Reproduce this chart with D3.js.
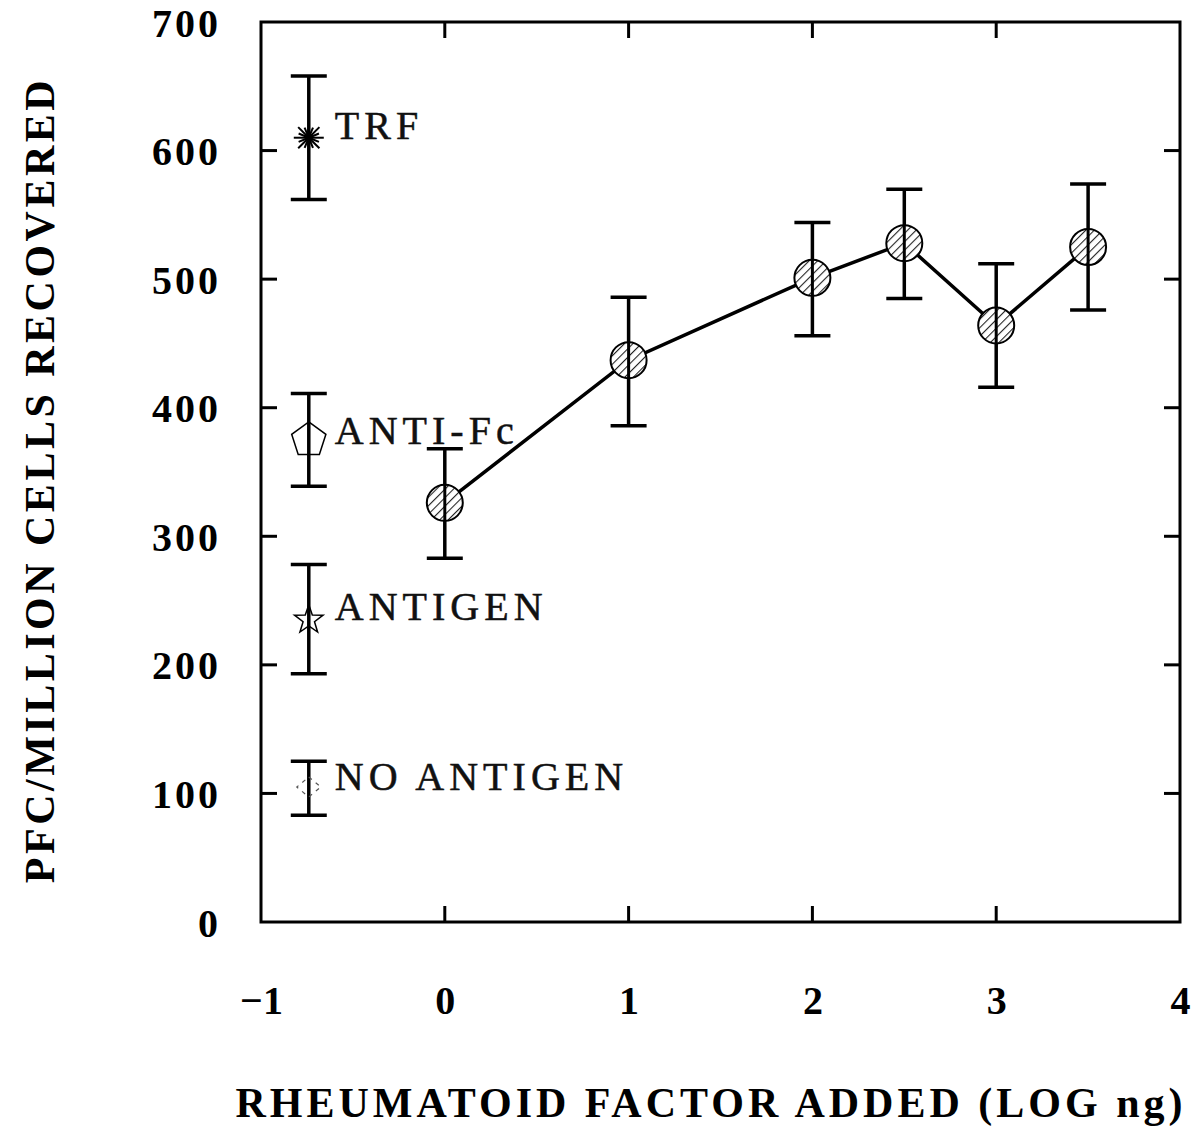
<!DOCTYPE html>
<html>
<head>
<meta charset="utf-8">
<script src="https://cdn.jsdelivr.net/npm/d3@7"></script>
<style>
  html, body { margin: 0; padding: 0; background: #fff; }
  svg { display: block; }
  text { font-family: "Liberation Serif", "Times New Roman", Times, serif; }
</style>
</head>
<body>
<svg id="chart" width="1199" height="1146"></svg>
<script>
// ---- data ----
const doseLog = [0, 1, 2, 2.5, 3, 3.5];
const pfcMean = [326, 437, 501, 528, 464, 525];
const pfcHigh = [368, 486, 544, 570, 512, 574];
const pfcLow  = [283, 386, 456, 485, 416, 476];

const controlNames = ["TRF", "ANTI-Fc", "ANTIGEN", "NO ANTIGEN"];
const controlMarkers = ["burst", "pentagon", "star", "diamond"];
const controlX = -0.74;
const controlMean = [610, 375, 235, 105];
const controlHigh = [658, 411, 278, 125];
const controlLow  = [562, 339, 193, 83];

const xTicks = [-1, 0, 1, 2, 3, 4];
const xTickLabels = ["\u22121", "0", "1", "2", "3", "4"];
const yTicks = [0, 100, 200, 300, 400, 500, 600, 700];
const xInnerTicks = [0, 1, 2, 3];
const yInnerTicks = [100, 200, 300, 400, 500, 600];

const xTitle = "RHEUMATOID FACTOR ADDED (LOG ng)";
const yTitle = "PFC/MILLION CELLS RECOVERED";

// ---- layout ----
const FONT = '"Liberation Serif", "Times New Roman", Times, serif';
const svg = d3.select("#chart");
const L = 261, R = 1180, T = 22, B = 922;
const x = d3.scaleLinear().domain([-1, 4]).range([L, R]);
const y = d3.scaleLinear().domain([0, 700]).range([B, T]);
const labelDy = [1, 4, 0, 3];

// hatch pattern
const defs = svg.append("defs");
const pat = defs.append("pattern")
  .attr("id", "hatch").attr("patternUnits", "userSpaceOnUse")
  .attr("width", 6).attr("height", 6)
  .attr("patternTransform", "rotate(45)");
pat.append("rect").attr("width", 6).attr("height", 6).attr("fill", "#fff");
pat.append("line").attr("x1", 0).attr("y1", 0).attr("x2", 0).attr("y2", 6)
  .attr("stroke", "#222").attr("stroke-width", 2.2);

// frame
svg.append("rect").attr("x", L).attr("y", T).attr("width", R - L).attr("height", B - T)
  .attr("fill", "none").attr("stroke", "#000").attr("stroke-width", 3);

// axes (labels only, ticks drawn inward)
const xAxis = d3.axisBottom(x).tickValues(xTicks).tickSize(0).tickPadding(0)
  .tickFormat((d, i) => xTickLabels[i]);
const gx = svg.append("g").attr("transform", `translate(0,${B})`).call(xAxis);
gx.attr("font-family", FONT);
gx.select(".domain").remove();
gx.selectAll("text").attr("dy", null).attr("y", 92)
  .style("font-family", FONT).style("font-weight", "bold")
  .style("font-size", "40px").attr("fill", "#000");

const yAxis = d3.axisLeft(y).tickValues(yTicks).tickSize(0).tickPadding(0)
  .tickFormat(d3.format("d"));
const gy = svg.append("g").attr("transform", `translate(${L},0)`).call(yAxis);
gy.attr("font-family", FONT);
gy.select(".domain").remove();
gy.selectAll("text").attr("x", -40).attr("dy", "0.35em")
  .style("font-family", FONT).style("font-weight", "bold")
  .style("font-size", "40px").style("letter-spacing", "3px").attr("fill", "#000");

// inward tick marks
const tk = 16;
const ticksG = svg.append("g").attr("stroke", "#000").attr("stroke-width", 3);
xInnerTicks.forEach(v => {
  ticksG.append("line").attr("x1", x(v)).attr("x2", x(v)).attr("y1", B).attr("y2", B - tk);
  ticksG.append("line").attr("x1", x(v)).attr("x2", x(v)).attr("y1", T).attr("y2", T + tk);
});
yInnerTicks.forEach(v => {
  ticksG.append("line").attr("x1", L).attr("x2", L + tk).attr("y1", y(v)).attr("y2", y(v));
  ticksG.append("line").attr("x1", R).attr("x2", R - tk).attr("y1", y(v)).attr("y2", y(v));
});

// axis titles
svg.append("text").attr("x", 711).attr("y", 1117)
  .attr("text-anchor", "middle").attr("font-weight", "bold").attr("font-size", "42px")
  .attr("letter-spacing", "4px").attr("fill", "#000").text(xTitle);
svg.append("text").attr("transform", `translate(54,480) rotate(-90)`)
  .attr("text-anchor", "middle").attr("font-weight", "bold").attr("font-size", "42px")
  .attr("letter-spacing", "3.5px").attr("fill", "#000").text(yTitle);

// error bars helper
const cap = 18;
function errBar(g, xv, lo, hi) {
  g.append("line").attr("x1", x(xv)).attr("x2", x(xv)).attr("y1", y(lo)).attr("y2", y(hi));
  g.append("line").attr("x1", x(xv) - cap).attr("x2", x(xv) + cap).attr("y1", y(hi)).attr("y2", y(hi));
  g.append("line").attr("x1", x(xv) - cap).attr("x2", x(xv) + cap).attr("y1", y(lo)).attr("y2", y(lo));
}

// main series
const line = d3.line().x((d, i) => x(doseLog[i])).y(d => y(d));
svg.append("path").datum(pfcMean).attr("d", line)
  .attr("fill", "none").attr("stroke", "#000").attr("stroke-width", 3.5);

const ebG = svg.append("g").attr("stroke", "#000").attr("stroke-width", 3.5);
doseLog.forEach((d, i) => errBar(ebG, d, pfcLow[i], pfcHigh[i]));

svg.append("g").selectAll("circle").data(pfcMean).join("circle")
  .attr("cx", (d, i) => x(doseLog[i])).attr("cy", d => y(d)).attr("r", 18)
  .attr("fill", "url(#hatch)").attr("stroke", "#000").attr("stroke-width", 2);
const ebG2 = svg.append("g").attr("stroke", "#000").attr("stroke-width", 3);
doseLog.forEach((d, i) => {
  ebG2.append("line").attr("x1", x(d)).attr("x2", x(d)).attr("y1", y(pfcMean[i]) - 18).attr("y2", y(pfcMean[i]) + 18);
});

// controls
const cG = svg.append("g").attr("stroke", "#000").attr("stroke-width", 3.5);
controlMean.forEach((m, i) => errBar(cG, controlX, controlLow[i], controlHigh[i]));

const mG = svg.append("g");
controlMean.forEach((m, i) => {
  const cx = x(controlX), cy = y(m);
  const kind = controlMarkers[i];
  if (kind === "burst") {
    const n = 16;
    d3.range(n).forEach(k => {
      const a = k * 2 * Math.PI / n;
      const r = (k % 2 === 0) ? 15 : 11;
      mG.append("line").attr("x1", cx).attr("y1", cy)
        .attr("x2", cx + r * Math.cos(a)).attr("y2", cy + r * Math.sin(a))
        .attr("stroke", "#000").attr("stroke-width", 2);
    });
    mG.append("circle").attr("cx", cx).attr("cy", cy).attr("r", 4).attr("fill", "#000");
  } else if (kind === "pentagon") {
    const pts = d3.range(5).map(k => {
      const a = -Math.PI / 2 + k * 2 * Math.PI / 5;
      return [cx + 18 * Math.cos(a), cy + 18 * Math.sin(a)];
    });
    mG.append("polygon").attr("points", pts.map(p => p.join(",")).join(" "))
      .attr("fill", "none").attr("stroke", "#000").attr("stroke-width", 1.5);
  } else if (kind === "star") {
    const pts = d3.range(10).map(k => {
      const a = -Math.PI / 2 + k * Math.PI / 5;
      const r = (k % 2 === 0) ? 15 : 6;
      return [cx + r * Math.cos(a), cy + r * Math.sin(a)];
    });
    mG.append("polygon").attr("points", pts.map(p => p.join(",")).join(" "))
      .attr("fill", "none").attr("stroke", "#000").attr("stroke-width", 1.5);
  } else if (kind === "diamond") {
    const pts = [[cx, cy - 10], [cx + 12, cy], [cx, cy + 10], [cx - 12, cy]];
    mG.append("polygon").attr("points", pts.map(p => p.join(",")).join(" "))
      .attr("fill", "none").attr("stroke", "#555").attr("stroke-width", 1.2)
      .attr("stroke-dasharray", "4,5");
  }
});

// control labels
svg.append("g").selectAll("text").data(controlNames).join("text")
  .attr("x", x(controlX) + 26).attr("y", (d, i) => y(controlMean[i]) + labelDy[i])
  .attr("font-size", "40px").attr("letter-spacing", "5px").attr("fill", "#111")
  .attr("stroke", "#111").attr("stroke-width", 0.5)
  .text(d => d);
</script>
</body>
</html>
